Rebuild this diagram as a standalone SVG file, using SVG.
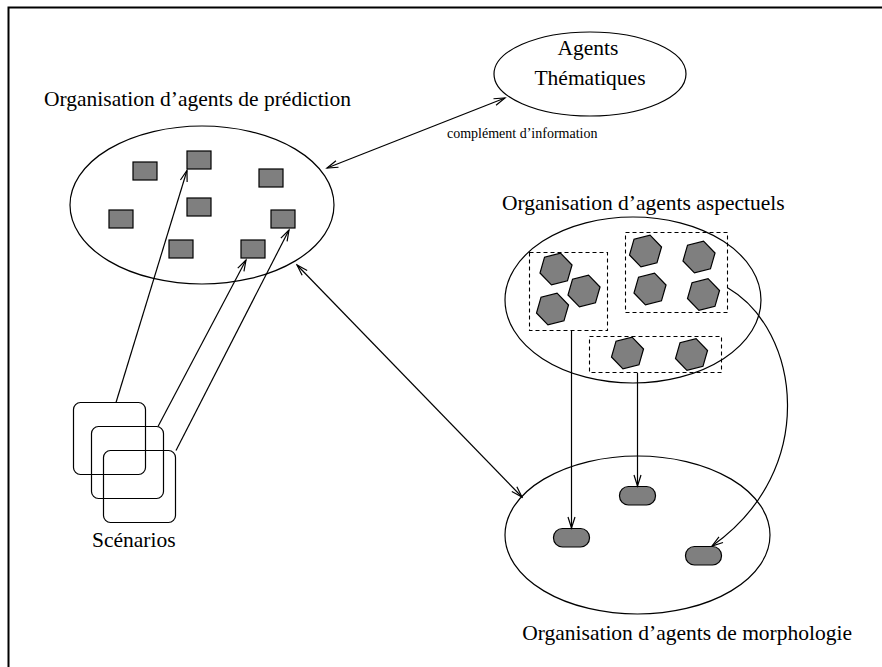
<svg xmlns="http://www.w3.org/2000/svg" width="882" height="667" viewBox="0 0 882 667">
<style>
text{font-family:"Liberation Serif","Times New Roman",serif;fill:#000}
.lbl{font-size:21.5px}
.small{font-size:14px}
.ell{fill:none;stroke:#000;stroke-width:1.2}
.sq{fill:#7f7f7f;stroke:#000;stroke-width:1.2}
.scen{fill:none;stroke:#000;stroke-width:1.2}
.dash{fill:none;stroke:#000;stroke-width:1.1;stroke-dasharray:4,3}
.con{fill:none;stroke:#000;stroke-width:1.2}
.arr{marker-end:url(#ah)}
.darr{marker-end:url(#ah);marker-start:url(#ah)}
</style>
<defs>
<marker id="ah" markerUnits="userSpaceOnUse" markerWidth="14" markerHeight="10" viewBox="-12 -5 14 10" refX="0" refY="0" orient="auto-start-reverse">
<path d="M-11,-3.5 L0,0 L-11,3.5" fill="none" stroke="#000" stroke-width="1.2"/>
</marker>
<path id="hex" d="M16.01,-3.99 L11.46,11.87 L-4.55,15.86 L-16.01,3.99 L-11.46,-11.87 L4.55,-15.86 Z" fill="#7f7f7f" stroke="#000" stroke-width="1.2"/>
<rect id="sqr" width="24" height="18" class="sq"/>
<rect id="pill" width="36" height="18.5" rx="9" ry="9" class="sq"/>
</defs>
<rect width="882" height="667" fill="#fff"/>
<path d="M8.5,667 L8.5,7.5 L882,7.5" fill="none" stroke="#000" stroke-width="2"/>

<g id="prediction">
<text class="lbl" x="44" y="106">Organisation d’agents de prédiction</text>
<ellipse class="ell" cx="202" cy="205" rx="132" ry="79"/>
<use href="#sqr" x="133" y="162"/>
<use href="#sqr" x="187" y="151"/>
<use href="#sqr" x="259" y="169"/>
<use href="#sqr" x="109" y="210"/>
<use href="#sqr" x="187" y="198"/>
<use href="#sqr" x="271" y="210"/>
<use href="#sqr" x="169" y="240"/>
<use href="#sqr" x="241" y="240"/>
</g>

<g id="thematiques">
<ellipse class="ell" cx="590" cy="74" rx="96" ry="42"/>
<text class="lbl" x="588" y="55" text-anchor="middle">Agents</text>
<text class="lbl" x="590" y="85" text-anchor="middle">Thématiques</text>
</g>

<g id="aspectuels">
<text class="lbl" x="502" y="210">Organisation d’agents aspectuels</text>
<ellipse class="ell" cx="633" cy="300" rx="128" ry="83"/>
<rect class="dash" x="529.5" y="252.5" width="78" height="78"/>
<rect class="dash" x="625.5" y="232.5" width="102" height="80"/>
<rect class="dash" x="589.5" y="336.5" width="132" height="36"/>
<use href="#hex" x="556" y="269"/>
<use href="#hex" x="584" y="291"/>
<use href="#hex" x="552.5" y="309"/>
<use href="#hex" x="645.5" y="251"/>
<use href="#hex" x="699" y="257"/>
<use href="#hex" x="650" y="289"/>
<use href="#hex" x="703.5" y="294.5"/>
<use href="#hex" x="627.5" y="353"/>
<use href="#hex" x="691.5" y="354.5"/>
</g>

<g id="morphologie">
<ellipse class="ell" cx="637.5" cy="535" rx="132.5" ry="79"/>
<use href="#pill" x="553.5" y="528.5"/>
<use href="#pill" x="619.5" y="486.5"/>
<use href="#pill" x="685.5" y="546.5"/>
<text class="lbl" x="852" y="640" text-anchor="end">Organisation d’agents de morphologie</text>
</g>

<g id="scenarios">
<rect class="scen" x="73.5" y="402.5" width="72" height="72" rx="7"/>
<rect class="scen" x="91.5" y="426.5" width="72" height="72" rx="7"/>
<rect class="scen" x="103.5" y="450.5" width="72" height="72" rx="7"/>
<text class="lbl" x="92" y="547">Scénarios</text>
</g>

<g id="connectors">
<line class="con arr" x1="116" y1="402.5" x2="187" y2="170.5"/>
<line class="con arr" x1="158" y1="426.5" x2="246" y2="260"/>
<line class="con arr" x1="176" y1="450.5" x2="289" y2="230"/>
<line class="con darr" x1="327" y1="168" x2="505" y2="98"/>
<text class="small" x="447" y="138">complément d’information</text>
<line class="con darr" x1="297" y1="265" x2="522" y2="497"/>
<line class="con arr" x1="571.5" y1="331" x2="571.5" y2="528"/>
<line class="con arr" x1="637.5" y1="373" x2="637.5" y2="486"/>
<path class="con arr" d="M728,288 C800,330 820,470 712,546"/>
</g>
</svg>
